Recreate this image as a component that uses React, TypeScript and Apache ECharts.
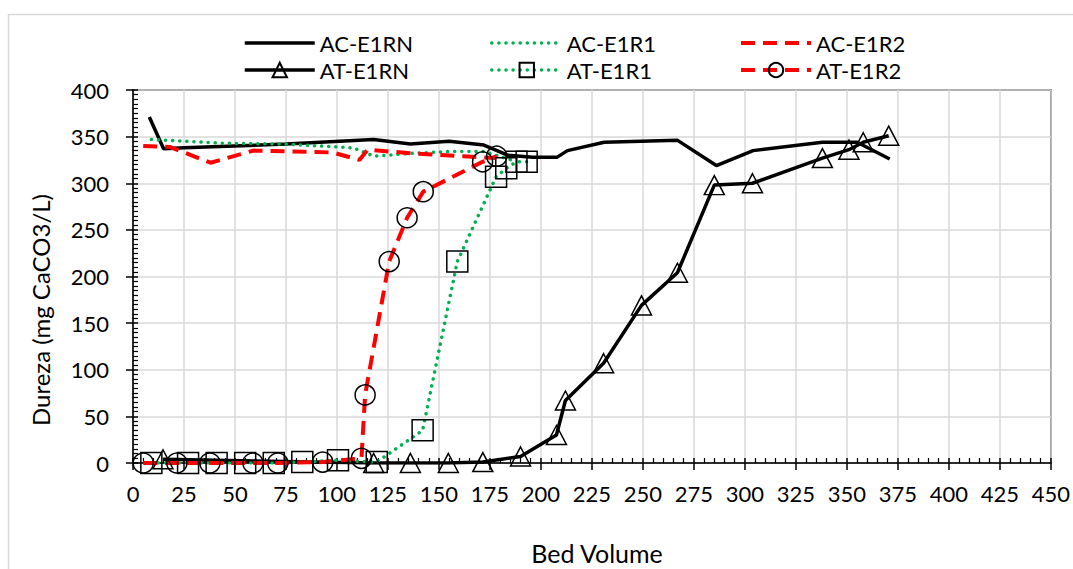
import React, { useEffect, useRef } from "react";
import * as echarts from "echarts";

// ---- data (Bed Volume vs Dureza mg CaCO3/L) ----
const acE1RN_x = [8, 15, 25, 75, 118, 136, 155, 172, 184, 196, 208, 213, 231, 267, 286, 304, 338, 355, 371];
const acE1RN_y = [371, 337, 338, 342, 347, 342, 345, 341, 330, 328, 328, 335, 344, 346, 319, 335, 344, 344, 326];

const acE1R1_x = [9, 26, 43, 75, 108, 118, 136, 155, 172, 187];
const acE1R1_y = [347, 345, 343, 342, 338, 329, 332, 334, 334, 324];

const acE1R2_x = [5, 18, 38, 59, 98, 111, 115, 137, 162, 178];
const acE1R2_y = [340, 339, 322, 335, 333, 325, 336, 332, 329, 327];

const atE1RN_x = [14.7, 118, 136, 154.6, 171.5, 190, 207.6, 212, 230.7, 249.3, 266.9, 285, 303.7, 338, 351, 358, 370.5];
const atE1RN_y = [4, 0, 0, 0, 1, 7, 30, 67, 107, 169, 204, 298, 300, 327, 336, 344, 351];

const atE1R1_x = [9, 27, 41, 55, 69, 83, 100.5, 119.5, 142, 159, 178, 183, 188, 193];
const atE1R1_y = [0, 0, 0, 0, 0, 1, 3, 1, 35, 216, 307, 316, 323, 323];

const atE1R2_x = [5, 21.5, 37.7, 58.8, 71, 93, 112, 113.8, 125.6, 134.4, 142.3, 171.4, 178.3];
const atE1R2_y = [0, 0, 0, 0, 0, 1, 5, 73, 216, 263, 291, 323, 329];

const seriesNames = ["AC-E1RN", "AC-E1R1", "AC-E1R2", "AT-E1RN", "AT-E1R1", "AT-E1R2"];
const xTickLabels = [0, 25, 50, 75, 100, 125, 150, 175, 200, 225, 250, 275, 300, 325, 350, 375, 400, 425, 450];
const yTickLabels = [0, 50, 100, 150, 200, 250, 300, 350, 400];

const xAxisTitle = "Bed Volume";
const yAxisTitle = "Dureza (mg CaCO3/L)";

const zip = (xs: number[], ys: number[]) => xs.map((x, i) => [x, ys[i]]);

const FONT = "Lato, 'Liberation Sans', sans-serif";
const BLACK = "#000000";
const GREEN = "#00B050";
const RED = "#FF0000";

export default function App() {
  const ref = useRef<HTMLDivElement>(null);

  useEffect(() => {
    if (!ref.current) return;
    const chart = echarts.init(ref.current, undefined, { renderer: "svg" });

    const xMin = xTickLabels[0];
    const xMax = xTickLabels[xTickLabels.length - 1];
    const xInt = xTickLabels[1] - xTickLabels[0];
    const yMin = yTickLabels[0];
    const yMax = yTickLabels[yTickLabels.length - 1];
    const yInt = yTickLabels[1] - yTickLabels[0];

    const markerStyle = { color: "transparent", borderColor: BLACK, borderWidth: 1.5 };
    const hiddenMarker = { color: "transparent", borderColor: "transparent", borderWidth: 0 };

    const legendBase = {
      orient: "vertical" as const,
      top: 27,
      itemWidth: 70,
      itemHeight: 18,
      itemGap: 5,
      selectedMode: false,
      textStyle: { fontSize: 22, fontFamily: FONT, color: BLACK, lineHeight: 22 },
    };

    chart.setOption({
      animation: false,
      backgroundColor: "#ffffff",
      grid: {
        left: 133,
        right: 21,
        top: 90,
        bottom: 106,
        show: true,
        borderColor: BLACK,
        borderWidth: 1.5,
        backgroundColor: "transparent",
      },
      legend: [
        { ...legendBase, left: 238, data: [seriesNames[0], seriesNames[3]], lineStyle: { width: 3.5 } },
        { ...legendBase, left: 485, data: [seriesNames[1], seriesNames[4]], lineStyle: { width: 3.5 } },
        { ...legendBase, left: 734, data: [seriesNames[2], seriesNames[5]], lineStyle: { width: 4 } },
      ],
      xAxis: [
        {
          type: "value",
          min: xMin,
          max: xMax,
          interval: xInt,
          axisLine: { show: true, onZero: false, lineStyle: { color: BLACK, width: 1.5 } },
          axisTick: { show: true, inside: false, length: 7, lineStyle: { color: BLACK, width: 1.5 } },
          axisLabel: { fontSize: 22, fontFamily: FONT, color: BLACK, margin: 19 },
          splitLine: { show: true, lineStyle: { color: "#D9D9D9", width: 1.5 } },
        },
        {
          type: "value",
          min: xMin,
          max: xMax,
          interval: xInt,
          position: "bottom",
          axisLine: { show: false, onZero: false },
          axisTick: { show: true, inside: true, length: 5, lineStyle: { color: BLACK, width: 1.5 } },
          minorTick: { show: true, splitNumber: 5, length: 5, lineStyle: { color: BLACK, width: 1.2 } },
          axisLabel: { show: false },
          splitLine: { show: false },
        },
      ],
      yAxis: [
        {
          type: "value",
          min: yMin,
          max: yMax,
          interval: yInt,
          axisLine: { show: true, onZero: false, lineStyle: { color: BLACK, width: 1.5 } },
          axisTick: { show: true, inside: false, length: 7, lineStyle: { color: BLACK, width: 1.5 } },
          axisLabel: { fontSize: 22, fontFamily: FONT, color: BLACK, margin: 24 },
          splitLine: { show: true, lineStyle: { color: "#D9D9D9", width: 1.5 } },
        },
        {
          type: "value",
          min: yMin,
          max: yMax,
          interval: yInt,
          position: "left",
          axisLine: { show: false, onZero: false },
          axisTick: { show: true, inside: true, length: 5, lineStyle: { color: BLACK, width: 1.5 } },
          minorTick: { show: true, splitNumber: 10, length: 5, lineStyle: { color: BLACK, width: 1.2 } },
          axisLabel: { show: false },
          splitLine: { show: false },
        },
      ],
      graphic: [
        {
          type: "rect",
          silent: true,
          z: -10,
          shape: { x: 8.5, y: 14.5, width: 1200, height: 800 },
          style: { fill: "transparent", stroke: "#D9D9D9", lineWidth: 1.5 },
        },
        {
          type: "text",
          x: 40,
          y: 310,
          rotation: Math.PI / 2,
          style: {
            text: yAxisTitle,
            fontSize: 24,
            fontFamily: FONT,
            fill: BLACK,
            align: "center",
            verticalAlign: "middle",
          },
        },
        {
          type: "text",
          x: 597,
          y: 553,
          style: {
            text: xAxisTitle,
            fontSize: 25,
            fontFamily: FONT,
            fill: BLACK,
            align: "center",
            verticalAlign: "middle",
          },
        },
      ],
      series: [
        {
          name: seriesNames[0],
          type: "line",
          symbol: "circle",
          symbolSize: 0,
          showSymbol: false,
          data: zip(acE1RN_x, acE1RN_y),
          lineStyle: { color: BLACK, width: 3.5 },
          itemStyle: hiddenMarker,
        },
        {
          name: seriesNames[1],
          type: "line",
          symbol: "circle",
          symbolSize: 0,
          showSymbol: false,
          data: zip(acE1R1_x, acE1R1_y),
          lineStyle: { color: GREEN, width: 3.5, type: [0.1, 7], cap: "round" },
          itemStyle: hiddenMarker,
        },
        {
          name: seriesNames[2],
          type: "line",
          symbol: "circle",
          symbolSize: 0,
          showSymbol: false,
          data: zip(acE1R2_x, acE1R2_y),
          lineStyle: { color: RED, width: 4, type: [14, 8] },
          itemStyle: hiddenMarker,
        },
        {
          name: seriesNames[3],
          type: "line",
          symbol: "triangle",
          symbolSize: [20, 19],
          data: zip(atE1RN_x, atE1RN_y),
          lineStyle: { color: BLACK, width: 3.5 },
          itemStyle: markerStyle,
        },
        {
          name: seriesNames[4],
          type: "line",
          symbol: "rect",
          symbolSize: 21,
          data: zip(atE1R1_x, atE1R1_y),
          lineStyle: { color: GREEN, width: 3.5, type: [0.1, 7], cap: "round" },
          itemStyle: markerStyle,
        },
        {
          name: seriesNames[5],
          type: "line",
          symbol: "circle",
          symbolSize: 20,
          data: zip(atE1R2_x, atE1R2_y),
          lineStyle: { color: RED, width: 4, type: [14, 8] },
          itemStyle: markerStyle,
        },
      ],
    });

    return () => chart.dispose();
  }, []);

  return (
    <div
      ref={ref}
      style={{ position: "fixed", left: 0, top: 0, width: 1073, height: 569, background: "#fff" }}
    />
  );
}
